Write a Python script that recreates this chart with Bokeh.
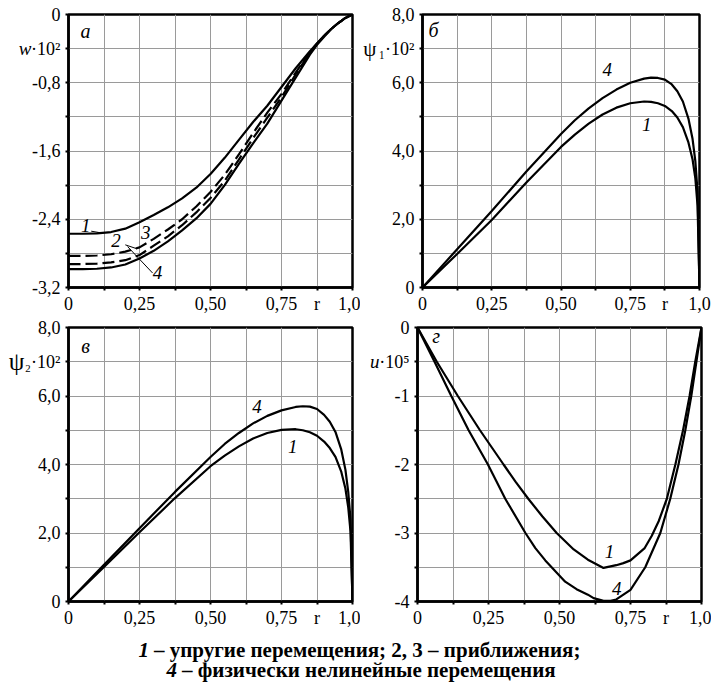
from bokeh.plotting import figure
from bokeh.models import Range1d, FixedTicker, Label, LinearAxis
from bokeh.layouts import column, row
from bokeh.embed import file_html
from bokeh.resources import INLINE

# ---------------- data ----------------
# panel а : w*10^2
r_w = [0, 0.05, 0.1, 0.15, 0.2, 0.25, 0.3, 0.35, 0.4, 0.45, 0.5, 0.55, 0.6, 0.65, 0.7, 0.75, 0.8, 0.85, 0.875, 0.9, 0.925, 0.95, 0.975, 1.0]
w_1 = [-2.57, -2.57, -2.565, -2.55, -2.51, -2.435, -2.35, -2.26, -2.155, -2.03, -1.87, -1.68, -1.47, -1.26, -1.07, -0.85, -0.63, -0.43, -0.34, -0.25, -0.17, -0.10, -0.04, 0]
w_2 = [-2.83, -2.83, -2.825, -2.81, -2.78, -2.73, -2.63, -2.52, -2.40, -2.25, -2.08, -1.88, -1.64, -1.39, -1.15, -0.93, -0.68, -0.44, -0.34, -0.25, -0.17, -0.10, -0.04, 0]
w_3 = [-2.925, -2.925, -2.92, -2.905, -2.88, -2.82, -2.71, -2.60, -2.47, -2.32, -2.15, -1.95, -1.70, -1.45, -1.21, -0.97, -0.70, -0.45, -0.345, -0.25, -0.17, -0.10, -0.04, 0]
w_4 = [-2.985, -2.985, -2.98, -2.965, -2.93, -2.86, -2.77, -2.66, -2.53, -2.39, -2.22, -2.00, -1.75, -1.51, -1.28, -1.01, -0.74, -0.47, -0.355, -0.26, -0.17, -0.10, -0.04, 0]

# panels б, в : psi*10^2
r_psi = [0, 0.125, 0.25, 0.375, 0.5, 0.55, 0.6, 0.65, 0.7, 0.75, 0.8, 0.825, 0.85, 0.875, 0.9, 0.92, 0.94, 0.96, 0.975, 0.985, 0.993, 1.0]
psi1_1 = [0, 0.98, 1.98, 3.08, 4.12, 4.48, 4.80, 5.07, 5.27, 5.40, 5.45, 5.44, 5.40, 5.32, 5.17, 4.98, 4.70, 4.25, 3.75, 3.20, 2.40, 0]
psi1_4 = [0, 1.12, 2.24, 3.40, 4.50, 4.90, 5.25, 5.55, 5.80, 6.00, 6.12, 6.15, 6.14, 6.09, 5.95, 5.75, 5.45, 4.95, 4.35, 3.70, 2.80, 0]
psi2_1 = [0, 1.01, 2.02, 3.02, 3.95, 4.26, 4.53, 4.76, 4.92, 5.01, 5.03, 5.00, 4.94, 4.84, 4.67, 4.48, 4.22, 3.80, 3.30, 2.75, 2.05, 0]
psi2_4 = [0, 1.07, 2.14, 3.20, 4.22, 4.60, 4.92, 5.20, 5.42, 5.58, 5.68, 5.70, 5.69, 5.62, 5.45, 5.25, 4.95, 4.45, 3.85, 3.20, 2.40, 0]

# panel г : u*10^5
r_u1 = [0, 0.068, 0.142, 0.22, 0.303, 0.345, 0.39, 0.44, 0.49, 0.55, 0.6, 0.655, 0.7, 0.725, 0.75, 0.8, 0.825, 0.85, 0.878, 0.908, 0.935, 0.958, 0.978, 1.0]
u_1 = [0, -0.5, -1.0, -1.5, -2.0, -2.25, -2.5, -2.76, -3.0, -3.24, -3.39, -3.51, -3.47, -3.44, -3.40, -3.22, -3.04, -2.82, -2.5, -2.0, -1.5, -1.0, -0.5, 0]
r_u4 = [0, 0.06, 0.119, 0.18, 0.248, 0.309, 0.38, 0.415, 0.45, 0.52, 0.56, 0.6, 0.62, 0.655, 0.68, 0.7, 0.75, 0.802, 0.855, 0.89, 0.919, 0.943, 0.964, 0.982, 1.0]
u_4 = [0, -0.5, -1.0, -1.5, -2.0, -2.5, -3.0, -3.22, -3.4, -3.71, -3.82, -3.9, -3.95, -3.99, -3.99, -3.97, -3.83, -3.5, -3.0, -2.5, -2.0, -1.5, -1.0, -0.5, 0]

# ticks and tick labels
x_ticks = [0, 0.125, 0.25, 0.375, 0.5, 0.625, 0.75, 0.875, 1.0]
x_tick_labels = ["0", "", "0,25", "", "0,50", "", "0,75", "r", "1,0"]
w_ticks = [-3.2, -2.8, -2.4, -2.0, -1.6, -1.2, -0.8, -0.4, 0]
w_tick_labels = ["-3,2", "", "-2,4", "", "-1,6", "", "-0,8", "·10²", "0"]
psi_ticks = [0, 1.0, 2.0, 3.0, 4.0, 5.0, 6.0, 7.0, 8.0]
psi1_tick_labels = ["0", "", "2,0", "", "4,0", "", "6,0", "₁·10²", "8,0"]
psi2_tick_labels = ["0", "", "2,0", "", "4,0", "", "6,0", "₂·10²", "8,0"]
u_ticks = [-4, -3.5, -3, -2.5, -2, -1.5, -1, -0.5, 0]
u_tick_labels = ["-4", "", "-3", "", "-2", "", "-1", "·10⁵", "0"]

FONT = "Liberation Serif"
LW = 2.2


def lab(p, x, y, text, size=18, style="normal", align="center", baseline="middle", xo=0, yo=0):
    p.add_layout(Label(x=x, y=y, text=text, text_font=FONT, text_font_size=f"{size}px",
                       text_font_style=style, text_align=align, text_baseline=baseline,
                       x_offset=xo, y_offset=yo, text_color="black"))


def make_fig(width, height, bl, br, bt, bb, yr, yt, ytl):
    p = figure(width=width, height=height, x_range=Range1d(0, 1), y_range=Range1d(*yr),
               output_backend="svg", toolbar_location=None,
               min_border_left=bl, min_border_right=br, min_border_top=bt, min_border_bottom=bb)
    p.background_fill_color = "white"
    p.border_fill_color = "white"
    p.outline_line_color = "black"
    p.outline_line_width = 2.5
    p.outline_line_alpha = 1
    p.xaxis.ticker = FixedTicker(ticks=x_ticks, minor_ticks=[])
    p.xaxis.major_label_overrides = dict(zip(x_ticks, x_tick_labels))
    p.yaxis.ticker = FixedTicker(ticks=yt, minor_ticks=[])
    p.yaxis.major_label_overrides = dict(zip(yt, ytl))
    for ax in (p.xaxis[0], p.yaxis[0]):
        ax.axis_line_width = 2.5
        ax.axis_line_color = "black"
        ax.major_tick_in = 0
        ax.major_tick_out = 3
        ax.major_tick_line_width = 2
        ax.major_tick_line_color = "black"
        ax.minor_tick_line_color = None
        ax.major_label_text_font = FONT
        ax.major_label_text_font_size = "18px"
        ax.major_label_text_color = "black"
        ax.major_label_standoff = 3
    p.yaxis[0].major_label_standoff = 5
    p.grid.grid_line_color = "#9a9a9a"
    p.grid.grid_line_width = 1
    p.grid.grid_line_alpha = 1
    return p


def name_axis(p, tick, text, standoff, style="italic", size=19):
    ax = LinearAxis(ticker=FixedTicker(ticks=[tick], minor_ticks=[]),
                    major_label_overrides={tick: text})
    ax.axis_line_color = None
    ax.major_tick_line_color = None
    ax.major_tick_in = 0
    ax.major_tick_out = 0
    ax.minor_tick_line_color = None
    ax.major_label_text_font = FONT
    ax.major_label_text_font_size = f"{size}px"
    ax.major_label_text_font_style = style
    ax.major_label_text_color = "black"
    ax.major_label_standoff = standoff
    p.add_layout(ax, "left")


# ---- panel а ----
pa = make_fig(360, 316, 68, 8, 13, 27, (-3.2, 0), w_ticks, w_tick_labels)
pa.line(r_w, w_1, line_color="black", line_width=LW)
pa.line(r_w, w_2, line_color="black", line_width=LW, line_dash="12 5")
pa.line(r_w, w_3, line_color="black", line_width=LW, line_dash="12 5")
pa.line(r_w, w_4, line_color="black", line_width=LW)
pa.line([0.08, 0.115], [-2.54, -2.56], line_color="black", line_width=1)
pa.line([0.20, 0.24], [-2.70, -2.745], line_color="black", line_width=1)
pa.line([0.296, 0.208], [-3.03, -2.72], line_color="black", line_width=1)
lab(pa, 0.061, -2.47, "1", 19, "italic")
lab(pa, 0.167, -2.645, "2", 19, "italic")
lab(pa, 0.272, -2.55, "3", 19, "italic")
lab(pa, 0.313, -3.03, "4", 19, "italic")
lab(pa, 0.06, -0.19, "а", 20, "italic")
name_axis(pa, -0.4, "w", -3)

# ---- panel б ----
pb = make_fig(351, 316, 57, 12, 14, 27, (0, 8), psi_ticks, psi1_tick_labels)
pb.line(r_psi, psi1_1, line_color="black", line_width=LW)
pb.line(r_psi, psi1_4, line_color="black", line_width=LW)
lab(pb, 0.667, 6.38, "4", 19, "italic")
lab(pb, 0.81, 4.79, "1", 19, "italic")
lab(pb, 0.04, 7.54, "б", 20, "italic")
name_axis(pb, 7.0, "ψ", -1, "normal", 21)

# ---- panel в ----
pc = make_fig(360, 314, 68, 8, 11, 27, (0, 8), psi_ticks, psi2_tick_labels)
pc.line(r_psi, psi2_1, line_color="black", line_width=LW)
pc.line(r_psi, psi2_4, line_color="black", line_width=LW)
lab(pc, 0.664, 5.69, "4", 19, "italic")
lab(pc, 0.79, 4.53, "1", 19, "italic")
lab(pc, 0.06, 7.47, "в", 20, "italic")
name_axis(pc, 7.0, "ψ", -3, "normal", 25)

# ---- panel г ----
pd = make_fig(351, 314, 57, 10, 11, 27, (-4, 0), u_ticks, u_tick_labels)
pd.line(r_u1, u_1, line_color="black", line_width=LW)
pd.line(r_u4, u_4, line_color="black", line_width=LW)
lab(pd, 0.676, -3.275, "1", 19, "italic")
lab(pd, 0.702, -3.81, "4", 19, "italic")
lab(pd, 0.066, -0.13, "г", 20, "italic")
name_axis(pd, -0.5, "u", -3)

# ---- caption ----
cap = figure(width=711, height=55, x_range=Range1d(0, 711), y_range=Range1d(0, 55),
             output_backend="svg", toolbar_location=None, x_axis_type=None, y_axis_type=None,
             min_border=0, min_border_left=0, min_border_right=0, min_border_top=0, min_border_bottom=0)
cap.outline_line_color = None
cap.grid.visible = False
cap.background_fill_color = "white"
cap.border_fill_color = "white"
lab(cap, 148.5, 36, "1", 21, "bold italic", align="right", baseline="alphabetic")
lab(cap, 153.5, 36, "– упругие перемещения; 2, 3 – приближения;", 21, "bold", align="left", baseline="alphabetic")
lab(cap, 176.5, 16, "4", 21, "bold italic", align="right", baseline="alphabetic")
lab(cap, 181.5, 16, "– физически нелинейные перемещения", 21, "bold", align="left", baseline="alphabetic")

layout = column(row(pa, pb), row(pc, pd), cap)
open("out.html", "w").write(file_html(layout, INLINE))
